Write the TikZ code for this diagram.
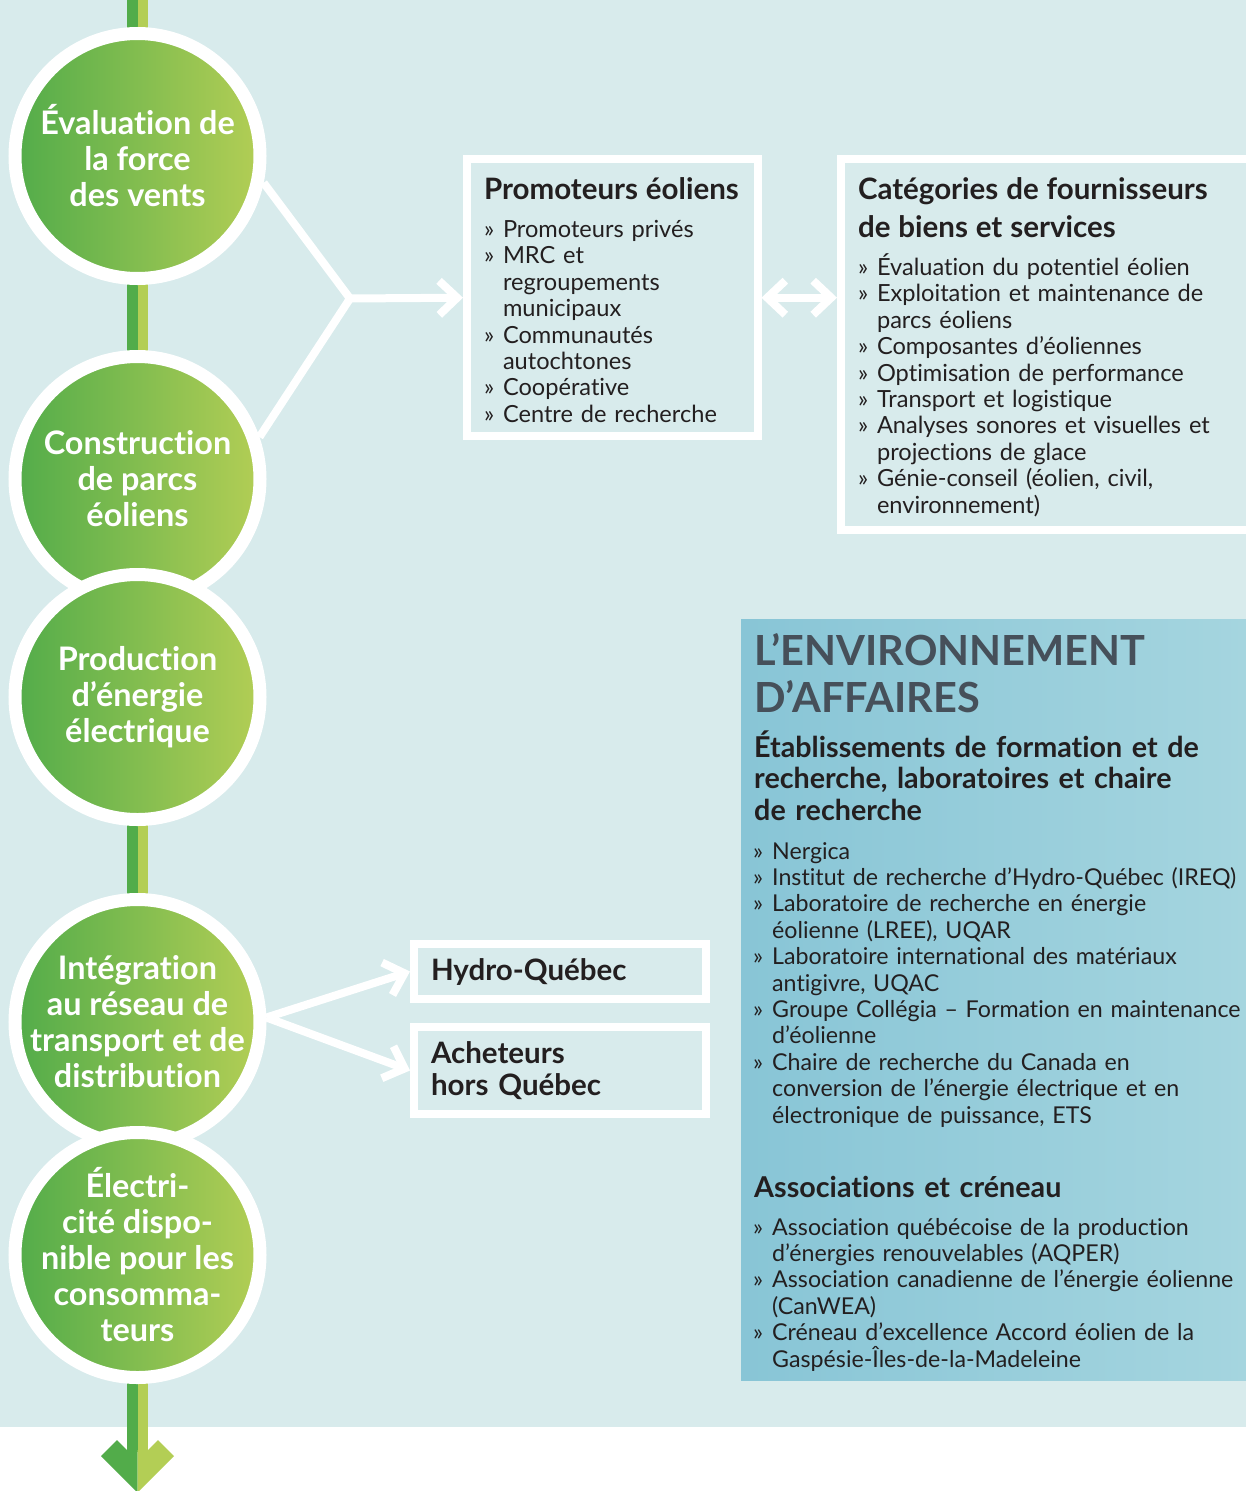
\documentclass[tikz,border=0pt]{standalone}
\usepackage{fontspec}
\setmainfont{Lato}[Ligatures=NoCommon]
\usetikzlibrary{arrows.meta}

\definecolor{fond}{HTML}{D8EBEC}
\definecolor{vertfonce}{HTML}{52AC4A}
\definecolor{vertpale}{HTML}{B3CE55}
\definecolor{encre}{HTML}{231F20}
\definecolor{ardoise}{HTML}{46505A}
\definecolor{turquoise}{HTML}{88C5D6}
\definecolor{turquoisepale}{HTML}{A5D5DF}

\newlength\retrait
\setlength\retrait{19pt}
% element de liste, retrait suspendu apres la puce
\newcommand\puce[1]{\noindent\hangindent=\retrait\hangafter=1
  \makebox[\retrait][l]{»}#1\par}
\newcommand\corps{\fontsize{23.6}{26.4}\selectfont}
\newcommand\corpsenv{\fontsize{23.2}{26.4}\selectfont}
\newcommand\titrebloc[1]{{\bfseries\fontsize{29.5}{38}\selectfont #1\par}\vspace{12pt}}

\tikzset{
  etape/.style={circle, draw=white, line width=13pt, minimum size=245pt,
    inner sep=-40pt, left color=vertfonce, right color=vertpale, text=white,
    align=center, font=\bfseries\fontsize{32.4}{36}\selectfont},
  cadre/.style={draw=white, line width=8pt, fill=fond, text=encre,
    anchor=north west, inner xsep=17pt, inner ysep=14pt, text height=26pt,
    align=left, font=\corps},
  choix/.style={draw=white, line width=8pt, fill=fond, text=encre,
    anchor=north west, inner xsep=17pt, inner ysep=0pt, align=left,
    text width=257.5pt, minimum width=291.5pt,
    font=\bfseries\fontsize{29.5}{32}\selectfont},
  bloc/.style={anchor=base west, inner sep=0pt, text=encre, align=left,
    text width=520pt, font=\corpsenv},
  lien/.style={draw=white, line width=8pt, line join=miter},
  fleche/.style={lien, -{Straight Barb[length=18pt, width=34pt]}},
}

\begin{document}
\begin{tikzpicture}[x=1pt, y=-1pt]
    \useasboundingbox (0,0) rectangle (1246,1491);
    \clip (0,0) rectangle (1246,1491);
    \fill[white] (0,0) rectangle (1246,1491);
    \fill[fond] (0,0) rectangle (1246,1427);

    % axe vertical en deux tons et sa pointe
    \fill[vertfonce] (127,0) rectangle (137.5,1452);
    \fill[vertpale] (137.5,0) rectangle (148,1452);
    \fill[vertfonce] (127,1450) -- (117,1440) -- (101,1456) -- (137.5,1492.5) -- (137.5,1450) -- cycle;
    \fill[vertpale] (148,1450) -- (158,1440) -- (174,1456) -- (137.5,1492.5) -- (137.5,1450) -- cycle;

    % etapes de la filiere
    \node[etape] (c1) at (137.5,156) {Évaluation de\\la force\\des vents};
    \node[etape] (c2) at (137.5,479) {Construction\\de parcs\\éoliens};
    \node[etape] (c3) at (137.5,697) {Production\\d’énergie\\électrique};
    \node[etape] (c4) at (137.5,1022) {Intégration\\au réseau de\\transport et de\\distribution};
    \node[etape] (c5) at (137.5,1255) {Électri-\\cité dispo-\\nible pour les\\consomma-\\teurs};

    % acteurs
    \node[cadre, text width=256.5pt] (promo) at (463,155) {
        \titrebloc{Promoteurs éoliens}
        \puce{Promoteurs privés}
        \puce{MRC et\newline regroupements\newline municipaux}
        \puce{Communautés\newline autochtones}
        \puce{Coopérative}
        \puce{Centre de recherche}};
    \node[cadre, text width=400pt] (cat) at (837,155) {
        \titrebloc{Catégories de fournisseurs\\de biens et services}
        \puce{Évaluation du potentiel éolien}
        \puce{Exploitation et maintenance de\newline parcs éoliens}
        \puce{Composantes d’éoliennes}
        \puce{Optimisation de performance}
        \puce{Transport et logistique}
        \puce{Analyses sonores et visuelles et\newline projections de glace}
        \puce{Génie-conseil (éolien, civil,\newline environnement)}};
    \node[choix, minimum height=55pt] (hydro) at (410,940) {Hydro-Québec};
    \node[choix, minimum height=87pt] (ach) at (410,1023) {Acheteurs\\hors Québec};

    % environnement d'affaires
    \node[anchor=north west, minimum width=505pt, minimum height=761pt, inner sep=0pt,
        left color=turquoise, right color=turquoisepale] (env) at (741,619) {};
    \node[bloc, text=ardoise, font=\bfseries\fontsize{41.5}{47}\selectfont] (envtitre) at (754,665)
        {L’ENVIRONNEMENT\\D’AFFAIRES};
    \node[bloc, font=\bfseries\fontsize{28.7}{31.5}\selectfont] (formation) at (754,757)
        {Établissements de formation et de\\recherche, laboratoires et chaire\\de recherche};
    \node[bloc] (labos) at (753,859) {
        \puce{Nergica}
        \puce{Institut de recherche d’Hydro-Québec (IREQ)}
        \puce{Laboratoire de recherche en énergie\newline éolienne (LREE), UQAR}
        \puce{Laboratoire international des matériaux\newline antigivre, UQAC}
        \puce{Groupe Collégia – Formation en maintenance\newline d’éolienne}
        \puce{Chaire de recherche du Canada en\newline conversion de l’énergie électrique et en\newline électronique de puissance, ETS}};
    \node[bloc, font=\bfseries\fontsize{28.7}{31.5}\selectfont] (assoc) at (754,1197)
        {Associations et créneau};
    \node[bloc] (reseaux) at (753,1235) {
        \puce{Association québécoise de la production\newline d’énergies renouvelables (AQPER)}
        \puce{Association canadienne de l’énergie éolienne\newline (CanWEA)}
        \puce{Créneau d’excellence Accord éolien de la\newline Gaspésie-Îles-de-la-Madeleine}};

    % liaisons
    \coordinate (fourche) at (350,298.5);
    \draw[lien] (c1.-12) -- (fourche) -- (c2.19);
    \draw[fleche] (fourche) -- (promo.west);
    \draw[lien, {Straight Barb[length=18pt, width=34pt]}-{Straight Barb[length=18pt, width=34pt]}]
        (promo.east) -- (promo.east -| cat.west);
    \draw[fleche] (c4.2) -- (hydro.west);
    \draw[fleche] (c4.2) -- (ach.west);
\end{tikzpicture}
\end{document}
